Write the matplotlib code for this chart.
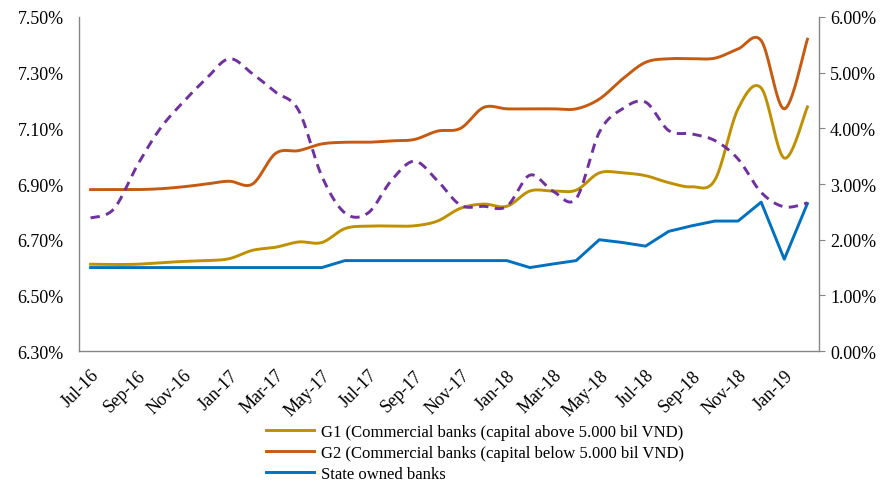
import matplotlib.pyplot as plt
from matplotlib.ticker import FuncFormatter
import numpy as np

plt.rcParams['font.family'] = ['Liberation Serif', 'DejaVu Serif']

months = ['Jul-16', 'Aug-16', 'Sep-16', 'Oct-16', 'Nov-16', 'Dec-16',
          'Jan-17', 'Feb-17', 'Mar-17', 'Apr-17', 'May-17', 'Jun-17',
          'Jul-17', 'Aug-17', 'Sep-17', 'Oct-17', 'Nov-17', 'Dec-17',
          'Jan-18', 'Feb-18', 'Mar-18', 'Apr-18', 'May-18', 'Jun-18',
          'Jul-18', 'Aug-18', 'Sep-18', 'Oct-18', 'Nov-18', 'Dec-18',
          'Jan-19', 'Feb-19']

# lending rates, left axis (%)
g1 = [6.612, 6.611, 6.612, 6.617, 6.622, 6.625, 6.632, 6.662, 6.673, 6.692,
      6.690, 6.740, 6.749, 6.749, 6.750, 6.767, 6.813, 6.828, 6.820, 6.875,
      6.875, 6.878, 6.940, 6.940, 6.930, 6.905, 6.890, 6.915, 7.170, 7.245,
      6.993, 7.177]
g2 = [6.880, 6.880, 6.880, 6.883, 6.890, 6.900, 6.910, 6.900, 7.010, 7.020,
      7.044, 7.050, 7.050, 7.055, 7.060, 7.090, 7.100, 7.175, 7.170, 7.170,
      7.170, 7.170, 7.205, 7.277, 7.337, 7.350, 7.350, 7.352, 7.385, 7.415,
      7.170, 7.420]
state = [6.600, 6.600, 6.600, 6.600, 6.600, 6.600, 6.600, 6.600, 6.600, 6.600,
         6.600, 6.625, 6.625, 6.625, 6.625, 6.625, 6.625, 6.625, 6.625, 6.600,
         6.613, 6.625, 6.700, 6.690, 6.677, 6.730, 6.750, 6.767, 6.767, 6.835,
         6.630, 6.830]
# dashed series, right axis (%)
spread = [2.39, 2.55, 3.32, 3.99, 4.47, 4.89, 5.25, 4.98, 4.65, 4.32,
          3.14, 2.48, 2.48, 3.06, 3.41, 3.06, 2.62, 2.60, 2.60, 3.16,
          2.87, 2.74, 3.93, 4.35, 4.47, 3.96, 3.90, 3.78, 3.45, 2.85,
          2.59, 2.66]


def smooth(y, n=20):
    # bezier curve through the points, tangents from neighbours
    y = np.asarray(y, dtype=float)
    x = np.arange(len(y), dtype=float)
    xs, ys = [], []
    for i in range(len(y) - 1):
        p0 = (x[i - 1], y[i - 1]) if i > 0 else (x[i], y[i])
        p1 = (x[i], y[i])
        p2 = (x[i + 1], y[i + 1])
        p3 = (x[i + 2], y[i + 2]) if i + 2 < len(y) else (x[i + 1], y[i + 1])
        c1 = (p1[0] + (p2[0] - p0[0]) / 6, p1[1] + (p2[1] - p0[1]) / 6)
        c2 = (p2[0] - (p3[0] - p1[0]) / 6, p2[1] - (p3[1] - p1[1]) / 6)
        t = np.linspace(0, 1, n, endpoint=False)
        b0, b1, b2, b3 = (1 - t) ** 3, 3 * t * (1 - t) ** 2, 3 * t ** 2 * (1 - t), t ** 3
        xs.append(b0 * p1[0] + b1 * c1[0] + b2 * c2[0] + b3 * p2[0])
        ys.append(b0 * p1[1] + b1 * c1[1] + b2 * c2[1] + b3 * p2[1])
    xs.append([x[-1]])
    ys.append([y[-1]])
    return np.concatenate(xs), np.concatenate(ys)


fig = plt.figure(figsize=(8.83, 4.85), dpi=100)
ax = fig.add_axes([0.0895, 0.274, 0.838, 0.689])
ax2 = ax.twinx()

idx = np.arange(len(months))

sx, sy = smooth(g1)
ax.plot(sx, sy, color='#BF9000', lw=2.1,
        label='G1 (Commercial banks (capital above 5.000 bil VND)')
sx, sy = smooth(g2)
ax.plot(sx, sy, color='#C55A11', lw=2.1,
        label='G2 (Commercial banks (capital below 5.000 bil VND)')
ax.plot(idx, state, color='#0070C0', lw=2.1, label='State owned banks')

sx, sy = smooth(spread)
ax2.plot(sx, sy, color='#7030A0', lw=2.1, ls=(0, (3.2, 2.2)))

ax.set_xlim(-0.5, len(months) - 0.5)
ax.set_ylim(6.30, 7.50)
ax.set_yticks(np.arange(6.30, 7.51, 0.20))
ax.yaxis.set_major_formatter(FuncFormatter(lambda v, p: f'{v:.2f}%'))
ax2.set_ylim(0, 6)
ax2.set_yticks(np.arange(0, 6.01, 1))
ax2.yaxis.set_major_formatter(FuncFormatter(lambda v, p: f'{v:.2f}%'))

ax.set_xticks(idx[::2])
ax.set_xticklabels(months[::2], rotation=45, ha='right', rotation_mode='anchor')

for a in (ax, ax2):
    a.spines['top'].set_visible(False)
    for s in ('left', 'right', 'bottom'):
        a.spines[s].set_color('#868686')
        a.spines[s].set_linewidth(1.0)
ax2.spines['left'].set_visible(False)
ax2.spines['bottom'].set_visible(False)
ax.spines['right'].set_visible(False)

ax.tick_params(axis='x', length=0, labelsize=13, pad=11)
ax.tick_params(axis='y', length=0, labelsize=13, pad=11)
ax2.tick_params(axis='y', length=4, color='#868686', labelsize=13, pad=4)

fig.legend(loc='upper center', bbox_to_anchor=(0.538, 0.137), ncol=1,
           frameon=False, fontsize=12, handlelength=2.9, handletextpad=0.4,
           labelspacing=0.28, borderaxespad=0)

fig.savefig('out.png', dpi=100)
